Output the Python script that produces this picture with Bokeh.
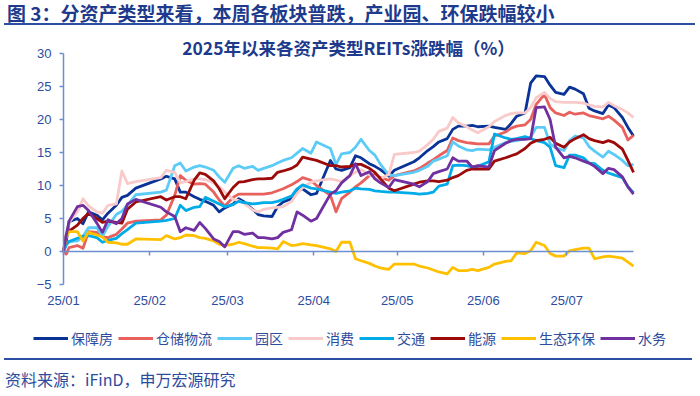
import pandas as pd
from bokeh.plotting import figure
from bokeh.models import (ColumnDataSource, Range1d, FixedTicker, DatetimeAxis, LinearAxis,
                          DatetimeTickFormatter, Legend, LegendItem, Label, Div)
from bokeh.layouts import column
from bokeh.embed import file_html
from bokeh.resources import INLINE

# ---------------- data ----------------
dates = [
    "2025-01-01", "2025-01-02", "2025-01-03", "2025-01-06", "2025-01-08", "2025-01-10", "2025-01-13",
    "2025-01-15", "2025-01-17", "2025-01-20", "2025-01-22", "2025-01-24", "2025-01-27",
    "2025-02-05", "2025-02-07", "2025-02-10", "2025-02-12", "2025-02-14", "2025-02-17", "2025-02-19",
    "2025-02-21", "2025-02-24", "2025-02-26", "2025-02-28",
    "2025-03-03", "2025-03-05", "2025-03-07", "2025-03-10", "2025-03-12", "2025-03-14", "2025-03-17",
    "2025-03-19", "2025-03-21", "2025-03-24", "2025-03-26", "2025-03-28", "2025-03-31",
    "2025-04-02", "2025-04-07", "2025-04-09", "2025-04-11", "2025-04-14", "2025-04-16", "2025-04-18",
    "2025-04-21", "2025-04-23", "2025-04-25", "2025-04-28", "2025-04-30",
    "2025-05-07", "2025-05-09", "2025-05-12", "2025-05-14", "2025-05-16", "2025-05-19", "2025-05-21",
    "2025-05-23", "2025-05-26", "2025-05-28", "2025-05-30",
    "2025-06-03", "2025-06-05", "2025-06-09", "2025-06-11", "2025-06-13", "2025-06-16", "2025-06-18",
    "2025-06-20", "2025-06-23", "2025-06-25", "2025-06-27", "2025-06-30",
    "2025-07-02", "2025-07-04", "2025-07-07", "2025-07-09", "2025-07-11", "2025-07-14", "2025-07-16",
    "2025-07-18", "2025-07-21", "2025-07-23", "2025-07-25",
]

baozhangfang = [0, 1.5, 4.5, 5.0, 4.2, 6.0, 5.5, 4.8, 5.8, 7.0, 8.2, 8.5, 9.6,
                11.0, 11.4, 11.0, 9.0, 9.0, 8.3, 7.9, 7.6, 7.0, 6.0, 6.6,
                7.2, 8.0, 7.5, 6.4, 5.6, 5.4, 5.3, 6.8, 7.5, 8.0, 9.3, 9.5, 8.6,
                8.8, 13.8, 12.5, 12.3, 12.7, 14.5, 14.2, 13.3, 12.9, 12.4, 11.4, 12.3,
                13.6, 14.2, 15.3, 15.9, 16.6, 17.1, 18.5, 19.0, 19.0, 19.1, 18.9,
                19.0, 18.8, 18.5, 19.4, 20.5, 21.0, 25.5, 26.6, 26.5, 25.2, 24.1, 23.8,
                24.9, 24.6, 23.9, 21.7, 21.3, 20.9, 22.2, 21.8, 20.3, 18.8, 17.5]
cangchu = [0, -0.4, 0.6, 0.9, 0.5, 3.0, 2.9, 2.2, 2.1, 2.6, 3.4, 4.3, 4.6,
           4.8, 5.5, 8.5, 11.5, 10.8, 10.2, 10.3, 10.2, 9.0, 7.8, 6.9,
           8.2, 8.7, 8.7, 8.7, 8.7, 8.7, 8.9, 9.2, 9.5, 10.1, 10.6, 11.2, 10.8,
           10.0, 8.5, 6.0, 8.0, 9.0, 9.8, 10.4, 11.5, 11.7, 11.2, 10.8, 11.5,
           12.2, 12.6, 13.4, 13.9, 14.5, 15.3, 17.2, 16.8, 16.5, 16.4, 16.3,
           16.3, 17.5, 18.1, 18.7, 19.0, 19.2, 20.0, 22.3, 23.8, 21.8, 21.0, 20.6,
           21.1, 20.8, 21.0, 20.6, 20.4, 20.1, 20.5, 19.9, 18.8, 16.9, 17.6]
yuanqu = [0, 1.2, 1.5, 1.6, 2.3, 3.6, 3.6, 2.3, 3.8, 5.6, 6.1, 7.0, 8.6,
          9.0, 9.3, 13.0, 13.4, 12.2, 12.8, 13.0, 12.8, 12.3, 11.3, 10.5,
          12.6, 13.0, 12.6, 12.9, 12.3, 12.6, 13.0, 13.4, 13.8, 14.2, 14.9, 15.6, 14.9,
          16.6, 15.6, 13.2, 14.8, 15.0, 15.8, 17.0, 15.3, 14.6, 13.2, 11.6, 11.5,
          12.0, 12.3, 12.9, 13.7, 14.0, 14.5, 16.6, 16.0, 15.4, 15.3, 15.5,
          15.4, 15.8, 16.5, 16.7, 16.8, 17.1, 17.3, 18.8, 18.8, 16.3, 15.7, 15.3,
          16.8, 17.5, 17.2, 15.9, 15.2, 14.3, 15.2, 14.7, 13.8, 13.0, 13.2]
xiaofei = [0, 2.5, 4.4, 6.0, 8.0, 6.9, 6.0, 5.8, 7.0, 7.2, 12.2, 10.3, 10.6,
           11.2, 12.3, 12.0, 10.4, 10.6, 11.0, 11.0, 10.9, 10.4, 9.8, 9.0,
           7.9, 7.7, 7.3, 6.3, 6.0, 6.4, 6.6, 6.7, 6.8, 7.6, 8.8, 9.7, 10.5,
           10.7, 11.0, 10.8, 10.6, 11.5, 12.0, 12.4, 11.6, 11.3, 11.0, 11.7, 14.7,
           15.0, 15.2, 16.2, 17.0, 18.2, 18.7, 20.3, 19.5, 18.9, 18.4, 18.0,
           18.9, 19.7, 20.6, 20.9, 21.0, 21.0, 21.8, 23.3, 24.1, 23.2, 22.7, 22.6,
           22.6, 22.6, 22.5, 22.2, 22.0, 21.9, 22.6, 22.1, 21.5, 21.0, 20.3]
jiaotong = [0, 1.0, 1.5, 2.0, 2.3, 2.4, 2.1, 1.4, 1.7, 2.0, 2.7, 3.3, 4.3,
            4.6, 4.7, 5.0, 7.0, 6.2, 6.7, 6.8, 8.2, 7.6, 7.2, 6.8,
            7.1, 7.6, 7.4, 7.2, 7.3, 7.4, 7.4, 7.6, 7.9, 8.4, 9.5, 10.1, 9.6,
            9.5, 9.0, 8.8, 9.0, 9.2, 9.6, 9.5, 9.4, 9.2, 9.1, 9.0, 9.0,
            8.8, 8.7, 8.8, 9.0, 9.9, 10.2, 13.0, 13.1, 13.0, 12.8, 12.9,
            13.6, 17.8, 17.2, 17.0, 17.1, 17.4, 17.1, 16.8, 16.5, 15.8, 13.0, 12.7,
            14.6, 14.6, 14.2, 13.4, 13.3, 12.3, 11.9, 11.6, 11.2, 9.8, 8.9]
nengyuan = [0, 2.5, 3.1, 4.0, 5.0, 5.8, 5.0, 4.4, 4.6, 4.4, 4.3, 6.4, 7.5,
            8.3, 7.8, 8.3, 8.3, 8.0, 10.8, 11.9, 11.7, 10.7, 9.5, 8.0,
            9.7, 10.5, 10.6, 10.9, 11.0, 11.0, 11.1, 12.0, 12.2, 12.6, 13.1, 14.3, 14.0,
            13.8, 13.0, 13.0, 12.8, 12.9, 13.2, 13.2, 12.6, 12.0, 11.0, 9.6, 9.2,
            10.2, 10.5, 10.7, 10.7, 10.6, 10.8, 11.2, 11.5, 12.3, 12.5, 12.5,
            12.5, 13.7, 14.2, 14.5, 14.8, 15.6, 16.4, 16.8, 17.0, 17.3, 16.4, 15.8,
            16.6, 17.1, 17.7, 17.1, 16.8, 16.5, 16.8, 16.5, 15.5, 13.8, 12.0]
shengtai = [0, 2.2, 3.0, 3.0, 1.6, 2.9, 2.5, 2.2, 1.4, 1.3, 1.1, 1.1, 1.9,
            1.8, 2.4, 1.9, 2.1, 2.5, 2.4, 2.1, 2.0, 1.6, 1.1, 0.9,
            1.1, 1.4, 1.2, 0.8, 0.6, 0.6, 0.5, 0.4, 1.5, 0.9, 1.0, 1.2, 1.0,
            0.9, 0.4, 0.0, 1.4, 1.4, -1.1, -1.4, -1.8, -2.2, -2.5, -2.7, -1.9,
            -1.9, -2.2, -2.5, -2.8, -3.1, -3.4, -2.4, -2.9, -2.9, -2.7, -2.9,
            -2.4, -1.9, -1.5, -1.4, -0.2, -0.3, 0.1, 1.4, 0.9, -0.3, -0.7, -0.7,
            0.1, 0.3, 0.5, 0.5, -1.1, -0.8, -0.7, -0.8, -1.0, -1.6, -2.2]
shuiwu = [0, 2.5, 4.6, 6.8, 7.0, 6.2, 4.3, 2.9, 4.8, 4.2, 5.0, 7.2, 7.9,
          6.7, 6.0, 5.3, 3.0, 3.6, 3.2, 4.4, 3.5, 1.9, 1.5, 0.7,
          3.0, 3.0, 2.6, 2.8, 2.1, 2.1, 1.9, 2.1, 2.9, 3.3, 6.0, 5.5, 4.6,
          5.0, 8.7, 9.2, 10.4, 11.5, 13.3, 11.5, 12.1, 11.0, 10.4, 9.7, 10.9,
          10.2, 9.8, 10.6, 11.8, 12.1, 12.5, 14.2, 13.7, 13.7, 12.8, 13.0,
          12.8, 15.3, 16.4, 16.8, 17.0, 17.0, 17.1, 21.8, 21.9, 20.0, 15.8, 14.2,
          14.4, 14.2, 13.7, 13.4, 12.9, 11.8, 12.6, 12.4, 11.3, 9.8, 8.7]

series_names = ["保障房", "仓储物流", "园区", "消费", "交通", "能源", "生态环保", "水务"]
series_values = [baozhangfang, cangchu, yuanqu, xiaofei, jiaotong, nengyuan, shengtai, shuiwu]
series_colors = ["#0A3397", "#E8615D", "#5CCBF7", "#F9CACA", "#00ABE8", "#9C0A0A", "#FFC000", "#7030A0"]

month_starts = ["2025-01-01", "2025-02-01", "2025-03-01", "2025-04-01",
                "2025-05-01", "2025-06-01", "2025-07-01"]
month_labels = ["25/01", "25/02", "25/03", "25/04", "25/05", "25/06", "25/07"]
y_ticks = [-5, 0, 5, 10, 15, 20, 25, 30]

fig_title = "图 3：分资产类型来看，本周各板块普跌，产业园、环保跌幅较小"
chart_title = "2025年以来各资产类型REITs涨跌幅（%）"
source_text = "资料来源：iFinD，申万宏源研究"

# ---------------- styling / layout ----------------
TITLE_C = "#1E3A8C"
RULE_C = "#2B4FA2"
AXIS_C = "#6E8FCF"
LABEL_C = "#2D4C9E"
CJK = "Noto Sans CJK SC"
LINE_W = 2.8

W, H = 700, 333            # chart canvas (the frame fills all of it)
PLOT_L, PLOT_R = 63, 633   # x pixel of first / last date
Y_TOP, Y_BOT = 28, 259     # y pixel (from canvas top) of 30 and -5

def ms(d):
    return pd.Timestamp(d).timestamp() * 1000.0

x_start = ms("2025-01-01")
x_end = ms(dates[-1])
month_ticks = [ms(m) for m in month_starts]

kx = (PLOT_R - PLOT_L) / (x_end - x_start)
ky = (Y_BOT - Y_TOP) / (max(y_ticks) - min(y_ticks))
x_range = Range1d(x_start - PLOT_L / kx, x_start + (W - PLOT_L) / kx)
y_range = Range1d(min(y_ticks) - (H - Y_BOT) / ky, max(y_ticks) + Y_TOP / ky)

data = {"date": pd.to_datetime(dates)}
for i, vals in enumerate(series_values):
    data[f"s{i}"] = vals
src = ColumnDataSource(data)

p = figure(frame_width=W, frame_height=H, x_range=x_range, y_range=y_range,
           x_axis_location=None, y_axis_location=None,
           min_border=0, output_backend="svg", toolbar_location=None)
p.outline_line_color = None
p.xgrid.visible = False
p.ygrid.visible = False
p.background_fill_color = "white"
p.border_fill_color = "white"

# y axis at the first date
ya = LinearAxis(fixed_location=x_start, bounds=(min(y_ticks), max(y_ticks)),
                ticker=FixedTicker(ticks=y_ticks),
                axis_line_color=AXIS_C, axis_line_width=1.5,
                major_tick_line_color=AXIS_C, major_tick_line_width=1.5,
                major_tick_out=4, major_tick_in=0, minor_tick_line_color=None,
                major_label_text_font="Liberation Sans", major_label_text_font_size="13px",
                major_label_text_color=LABEL_C, major_label_standoff=8)
p.add_layout(ya, "left")

# axis line crossing at y = 0 (with tick marks, no labels)
ax0 = DatetimeAxis(fixed_location=0, bounds=(x_start, x_end),
                   ticker=FixedTicker(ticks=month_ticks),
                   axis_line_color=AXIS_C, axis_line_width=1.5,
                   major_tick_line_color=AXIS_C, major_tick_line_width=1.5,
                   major_tick_out=4, major_tick_in=0, minor_tick_line_color=None,
                   major_label_text_alpha=0, major_label_text_font_size="1px")
p.add_layout(ax0, "below")

# month labels under the lowest y value
fmt = "%y/%m"
xa = DatetimeAxis(fixed_location=min(y_ticks), ticker=FixedTicker(ticks=month_ticks),
                  formatter=DatetimeTickFormatter(milliseconds=fmt, seconds=fmt, minsec=fmt,
                                                  minutes=fmt, hourmin=fmt, hours=fmt,
                                                  days=fmt, months=fmt, years=fmt),
                  major_label_overrides={t: lab for t, lab in zip(month_ticks, month_labels)},
                  axis_line_color=None, major_tick_line_color=None, minor_tick_line_color=None,
                  major_tick_out=0, major_tick_in=0,
                  major_label_text_font="Liberation Sans", major_label_text_font_size="13px",
                  major_label_text_color=LABEL_C, major_label_standoff=8)
p.add_layout(xa, "below")

renderers = []
for i, (name, col) in enumerate(zip(series_names, series_colors)):
    r = p.line("date", f"s{i}", source=src, line_color=col, line_width=LINE_W,
               line_join="round")
    renderers.append(r)

legend = Legend(items=[LegendItem(label=n, renderers=[r]) for n, r in zip(series_names, renderers)],
                orientation="horizontal", location=(33, 10), nrows=1,
                label_text_font=CJK, label_text_font_size="14px", label_text_color=LABEL_C,
                glyph_width=35, glyph_height=14, label_standoff=3, spacing=5,
                padding=0, margin=0, border_line_color=None, background_fill_alpha=0)
p.add_layout(legend)

p.add_layout(Label(x=(x_start + x_end) / 2, y=30.9, text=chart_title,
                   text_align="center", text_baseline="middle",
                   text_font=CJK, text_font_style="bold", text_font_size="17.5px",
                   text_color=TITLE_C))

title_div = Div(
    text=(f'<div style="margin-left:4px; width:691px; box-sizing:border-box; padding-left:3px; '
          f'padding-top:3px; white-space:nowrap; font-family:{CJK},sans-serif; font-weight:bold; '
          f'font-size:19px; line-height:20px; color:{TITLE_C}; '
          f'border-bottom:2px solid {RULE_C};">{fig_title}</div>'),
    width=700, height=25, margin=0)

footer_div = Div(
    text=(f'<div style="margin-left:4px; width:688px; box-sizing:border-box; padding-left:1px; '
          f'white-space:nowrap; border-top:2px solid {RULE_C}; padding-top:9px; '
          f'font-family:{CJK},sans-serif; font-size:16px; line-height:20px; '
          f'color:{LABEL_C};">{source_text}</div>'),
    width=700, height=38, margin=0)

layout = column(title_div, p, footer_div, spacing=0)

open("out.html", "w").write(file_html(layout, INLINE))
